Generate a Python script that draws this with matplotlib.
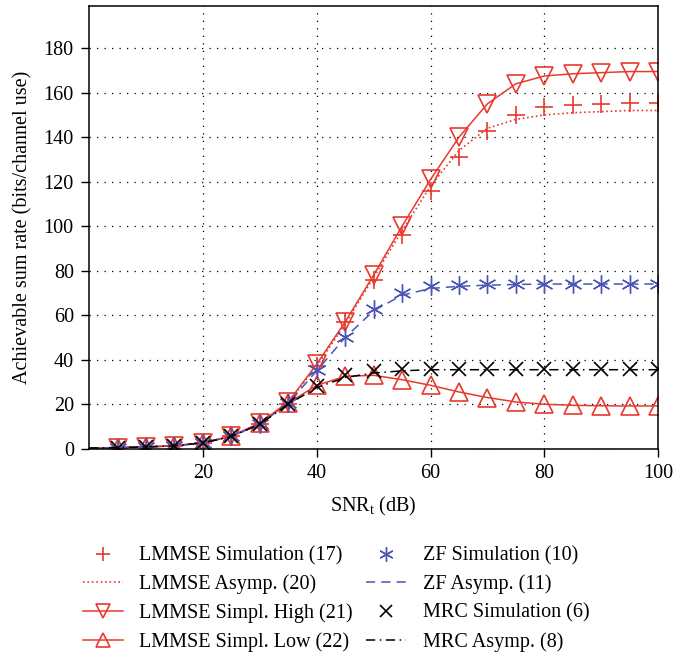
import matplotlib
matplotlib.use('Agg')
import matplotlib.pyplot as plt

plt.rcParams['font.family'] = ['Liberation Serif', 'DejaVu Serif']
plt.rcParams['mathtext.fontset'] = 'custom'
plt.rcParams['mathtext.rm'] = 'Liberation Serif'
plt.rcParams['mathtext.it'] = 'Liberation Serif:italic'

# SNR grid (dB)
x_line = [0, 5, 10, 15, 20, 25, 30, 35, 40, 45, 50, 55, 60, 65, 70, 75, 80, 85, 90, 95, 100]
x_sim = x_line[1:]

lmmse_sim = [0.5, 0.7, 1.2, 2.5, 5.5, 11, 20, 37, 57, 76, 96, 116, 131, 143, 150,
             153.5, 154.5, 155, 155.5, 155.5]
lmmse_asym = [0.3, 0.5, 0.8, 1.3, 2.6, 5.5, 11, 21, 37, 56, 77, 98, 118, 134, 144,
              148, 150, 151, 151.5, 152, 152]
lmmse_high = [0.3, 0.5, 0.8, 1.3, 2.7, 5.6, 11.5, 21, 38, 57, 78, 100, 121, 140, 155,
              164, 167.5, 168.5, 169, 169.5, 169.5]
lmmse_low = [0.3, 0.5, 0.8, 1.3, 2.7, 5.6, 11.5, 20.5, 28.5, 32.5, 33, 31, 28.5, 25.5,
             23, 21, 20, 19.5, 19.3, 19.2, 19.2]
zf_sim = [0.5, 0.7, 1.2, 2.5, 5.5, 11, 20.5, 35.5, 50, 63, 70, 73, 73.5, 74, 74, 74,
          74, 74, 74, 74]
zf_asym = [0.3, 0.5, 0.8, 1.3, 2.6, 5.5, 11, 20.5, 35, 50, 62, 69, 72, 73, 73.5, 73.8,
           74, 74, 74, 74, 74]
mrc_sim = [0.5, 0.7, 1.2, 2.5, 5.5, 11, 20, 28, 33, 35, 35.8, 36, 36, 36, 36, 36, 36,
           36, 36, 36]
mrc_asym = [0.3, 0.5, 0.8, 1.3, 2.6, 5.5, 11, 20, 27.5, 32, 34, 35, 35.5, 35.5, 35.5,
            35.5, 35.5, 35.5, 35.5, 35.5, 35.5]

labels = ['LMMSE Simulation (17)', 'LMMSE Asymp. (20)', 'LMMSE Simpl. High (21)',
          'LMMSE Simpl. Low (22)', 'ZF Simulation (10)', 'ZF Asymp. (11)',
          'MRC Simulation (6)', 'MRC Asymp. (8)']

red = '#e8392f'
blue = '#4b55b5'
fs = 14.5

fig = plt.figure(figsize=(6.75, 6.56), dpi=100)
ax = fig.add_axes([0.132, 0.316, 0.843, 0.675])

h1, = ax.plot(x_sim, lmmse_sim, '+', color=red, ms=13, mew=1.2, label=labels[0])
h2, = ax.plot(x_line, lmmse_asym, ':', color=red, lw=1.2, label=labels[1])
h3, = ax.plot(x_line, lmmse_high, '-', color=red, lw=1.1, marker='v', ms=13,
              mfc='none', mew=1.2, markevery=slice(1, None), label=labels[2])
h4, = ax.plot(x_line, lmmse_low, '-', color=red, lw=1.1, marker='^', ms=13,
              mfc='none', mew=1.2, markevery=slice(1, None), label=labels[3])
h5, = ax.plot(x_sim, zf_sim, ls='none', marker=(6, 2, 0), color=blue, ms=13, mew=1.0,
              label=labels[4])
h6, = ax.plot(x_line, zf_asym, '--', color=blue, lw=1.1, dashes=(6, 4), label=labels[5])
h7, = ax.plot(x_sim, mrc_sim, 'x', color='black', ms=10, mew=1.2, label=labels[6])
h8, = ax.plot(x_line, mrc_asym, '-.', color='black', lw=1.1, dashes=(6, 3, 1, 3),
              label=labels[7])

ax.set_xlim(0, 100)
ax.set_ylim(0, 199)
ax.set_xticks([20, 40, 60, 80, 100])
ax.set_yticks(range(0, 181, 20))
ax.grid(True, color='black', linestyle=(0, (1, 5)), linewidth=0.9)
ax.tick_params(direction='out', length=6, width=1, labelsize=fs, pad=5)
for s in ax.spines.values():
    s.set_linewidth(1.1)

ax.set_xlabel(r'SNR$_\mathrm{t}$ (dB)', fontsize=fs)
ax.set_ylabel('Achievable sum rate (bits/channel use)', fontsize=fs)
ax.xaxis.set_label_coords(0.5, -0.105)
ax.yaxis.set_label_coords(-0.1, 0.5)

fig.legend(handles=[h1, h2, h3, h4, h5, h6, h7, h8], ncol=2, frameon=False,
           loc='upper left', bbox_to_anchor=(0.123, 0.167), fontsize=fs,
           borderpad=0, borderaxespad=0,
           handlelength=2.0, labelspacing=0.45, columnspacing=0.65, handletextpad=0.8,
           markerscale=0.8)

fig.savefig('out.png', dpi=100)
